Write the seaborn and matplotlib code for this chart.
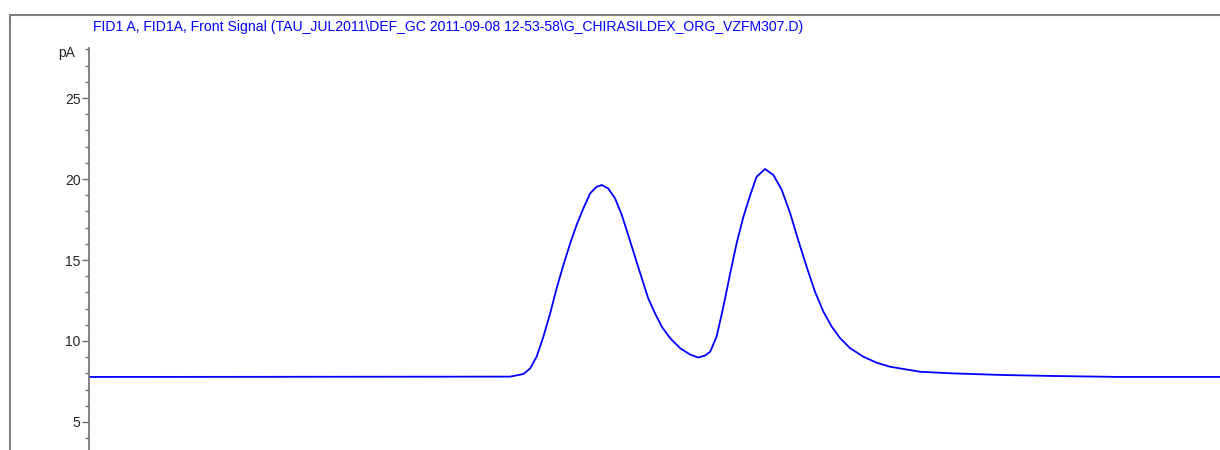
import matplotlib
matplotlib.use("Agg")
import matplotlib.pyplot as plt
import seaborn as sns
import pandas as pd
from matplotlib.patches import Rectangle
from matplotlib.ticker import MultipleLocator

# retention time (min) and FID signal (pA)
time_min = [20.0, 25.28, 30.53, 30.86, 31.03, 31.19, 31.36, 31.53, 31.69, 31.86,
            32.03, 32.19, 32.36, 32.53, 32.69, 32.82, 32.98, 33.15, 33.32, 33.48,
            33.65, 33.82, 33.98, 34.15, 34.32, 34.53, 34.78, 35.03, 35.23, 35.4,
            35.53, 35.69, 35.86, 36.03, 36.19, 36.36, 36.53, 36.69, 36.9, 37.11,
            37.32, 37.53, 37.73, 37.94, 38.15, 38.36, 38.57, 38.78, 39.03, 39.36,
            39.69, 40.03, 40.78, 41.6, 42.85, 44.1, 45.78, 48.28]
signal_pa = [7.78, 7.79, 7.80, 7.96, 8.31, 9.03, 10.27, 11.71, 13.25, 14.69,
             16.03, 17.16, 18.19, 19.12, 19.52, 19.63, 19.42, 18.81, 17.78, 16.54,
             15.20, 13.87, 12.64, 11.71, 10.88, 10.17, 9.55, 9.16, 8.98, 9.10,
             9.34, 10.27, 12.12, 14.18, 16.03, 17.67, 19.01, 20.14, 20.62, 20.25,
             19.32, 17.88, 16.23, 14.59, 13.04, 11.81, 10.88, 10.17, 9.55, 9.03,
             8.66, 8.41, 8.1, 8.0, 7.9, 7.84, 7.78, 7.78]

title = ("FID1 A, FID1A, Front Signal (TAU_JUL2011\\DEF_GC 2011-09-08 12-53-58"
         "\\G_CHIRASILDEX_ORG_VZFM307.D)")

df = pd.DataFrame({"t": time_min, "pA": signal_pa})

sns.set_theme(style="white")
plt.rcParams["font.family"] = ["Liberation Sans", "DejaVu Sans"]

fig = plt.figure(figsize=(12.2, 4.5), dpi=100)
W, H = 1220, 450

# outer gray frame
fig.patches.append(Rectangle((10 / W, -0.1), 1.2, 1 - 15 / H + 0.1,
                             transform=fig.transFigure, fill=False,
                             edgecolor="#808080", linewidth=1.5))

ax = fig.add_axes([89 / W, 0, (1250 - 89) / W, (450 - 48) / H])
sns.lineplot(data=df, x="t", y="pA", ax=ax, color="#0000ff", linewidth=1.3)

ax.set_xlim(20, 20 + (1250 - 89) / 40)
ax.set_ylim(3.27, 28.09)
ax.yaxis.set_major_locator(MultipleLocator(5))
ax.yaxis.set_minor_locator(MultipleLocator(1))
ax.tick_params(axis="y", which="major", length=5, width=1, color="#707070",
               labelsize=10, pad=1, left=True)
ax.tick_params(axis="y", which="minor", length=3, width=1, color="#707070", left=True)
ax.set_xticks([])
ax.set_xlabel("")
ax.set_ylabel("")
for s in ["top", "right", "bottom"]:
    ax.spines[s].set_visible(False)
ax.spines["left"].set_color("#707070")
ax.spines["left"].set_linewidth(1.2)
ax.patch.set_alpha(0)

ax.text(-0.012, 27.8, "pA", transform=ax.get_yaxis_transform(),
        ha="right", va="center", fontsize=10)

fig.text(93 / W, 1 - 27 / H, title, color="#0000ff", fontsize=10.1,
         ha="left", va="center")

plt.savefig("out.png", dpi=100)
